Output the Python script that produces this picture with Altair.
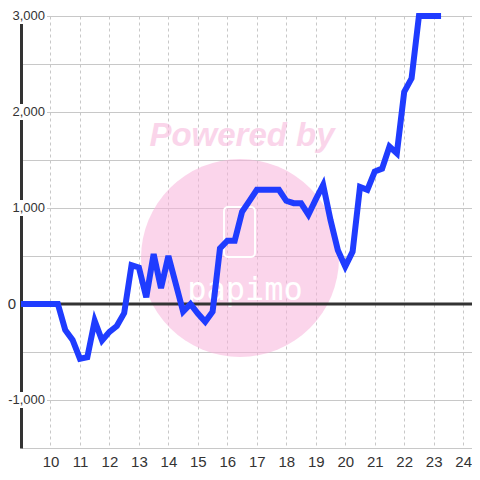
import altair as alt
import pandas as pd

# ---- data ----
hours = [9.0, 10.25, 10.5, 10.75, 11.0, 11.25, 11.5, 11.75, 12.0, 12.25, 12.5,
         12.75, 13.0, 13.25, 13.5, 13.75, 14.0, 14.25, 14.5, 14.75, 15.0, 15.25,
         15.5, 15.75, 16.0, 16.25, 16.5, 16.75, 17.0, 17.25, 17.5, 17.75, 18.0,
         18.25, 18.5, 18.75, 19.0, 19.25, 19.5, 19.75, 20.0, 20.25, 20.5, 20.75,
         21.0, 21.25, 21.5, 21.75, 22.0, 22.25, 22.5, 22.75, 23.0, 23.25]
values = [0, 0, -270, -375, -570, -555, -175, -380, -290, -230, -95,
          405, 380, 70, 520, 165, 500, 210, -80, 0, -100, -185,
          -80, 580, 660, 660, 960, 1075, 1190, 1190, 1190, 1190, 1075,
          1050, 1050, 930, 1090, 1240, 875, 560, 390, 545, 1220, 1190,
          1380, 1410, 1640, 1570, 2210, 2350, 3000, 3000, 3000, 3000]

x_ticks = list(range(10, 25))
y_grid = list(range(-1500, 3001, 500))
y_label_vals = [3000, 2000, 1000, -1000]
zero_label = [0]

FONT = "Liberation Sans"
TXT = "#333333"

df = pd.DataFrame({"hour": hours, "value": values})
labels_df = pd.DataFrame({"v": y_label_vals,
                          "t": [f"{v:,}" for v in y_label_vals]})
zero_df = pd.DataFrame({"v": zero_label, "t": ["0"]})
dummy = pd.DataFrame({"a": [0]})

W, H = 451, 432
xs = alt.Scale(domain=[9, 24.3], nice=False, zero=False)
ys = alt.Scale(domain=[-1500, 3000], nice=False, zero=False)

base_x = alt.X("hour:Q", scale=xs, title=None,
               axis=alt.Axis(values=x_ticks, domain=False, ticks=False, tickSize=0,
                             grid=True, gridDash=[3, 3], gridColor="#c8c8c8",
                             labelFont=FONT, labelFontSize=15, labelColor=TXT,
                             labelPadding=6, labelFlush=False, labelOverlap=False))
base_y = alt.Y("value:Q", scale=ys, title=None,
               axis=alt.Axis(values=y_grid, domain=True, domainColor="#333333",
                             domainWidth=3, ticks=False, tickSize=0, labels=False,
                             grid=True, gridColor="#c8c8c8"))

# watermark
circle = alt.Chart(dummy).mark_circle(size=39204, color="#f7b3da", opacity=0.55).encode(
    x=alt.value(219), y=alt.value(242))
powered = alt.Chart(dummy).mark_text(
    text="Powered by", font=FONT, fontSize=33, fontWeight="bold", fontStyle="italic",
    color="#f7b3da", opacity=0.55, align="center", baseline="alphabetic").encode(
    x=alt.value(221), y=alt.value(130))
logo = alt.Chart(dummy).mark_text(
    text="papimo", font="DejaVu Sans Mono", fontSize=32, color="white",
    align="center", baseline="alphabetic").encode(
    x=alt.value(224), y=alt.value(284))
icon = alt.Chart(dummy).mark_rect(fillOpacity=0, stroke="white",
                                  strokeWidth=2, cornerRadius=4).encode(
    x=alt.value(203), x2=alt.value(234), y=alt.value(191), y2=alt.value(241))

line = alt.Chart(df).mark_line(color="#1f3cff", strokeWidth=6, clip=False).encode(
    x=base_x, y=base_y)

zero_rule = alt.Chart(dummy).mark_rule(color="#333333", strokeWidth=3).encode(
    y=alt.datum(0, scale=ys), x=alt.value(0), x2=alt.value(W))

boxes = alt.Chart(labels_df).mark_point(
    shape="M-2.5,-1H2.5V1H-2.5Z", size=256, filled=True, fill="white",
    strokeWidth=0, opacity=1).encode(
    x=alt.value(6), y=alt.Y("v:Q", scale=ys))
ylabels = alt.Chart(labels_df).mark_text(
    font=FONT, fontSize=13, color=TXT, align="right", baseline="middle").encode(
    x=alt.value(24), y=alt.Y("v:Q", scale=ys), text="t:N")
zlabel = alt.Chart(zero_df).mark_text(
    font=FONT, fontSize=15, color=TXT, align="right", baseline="middle").encode(
    x=alt.value(-5), y=alt.Y("v:Q", scale=ys), text="t:N")

chart = alt.layer(circle, powered, logo, icon, zero_rule, line, boxes, ylabels, zlabel).properties(
    width=W, height=H,
    autosize=alt.AutoSizeParams(type="none"),
    padding={"left": 13, "top": 8, "right": 0, "bottom": 20},
    background="white",
).configure_view(stroke=None)

chart.save("out.html", embed_options={"renderer": "svg", "actions": False})
